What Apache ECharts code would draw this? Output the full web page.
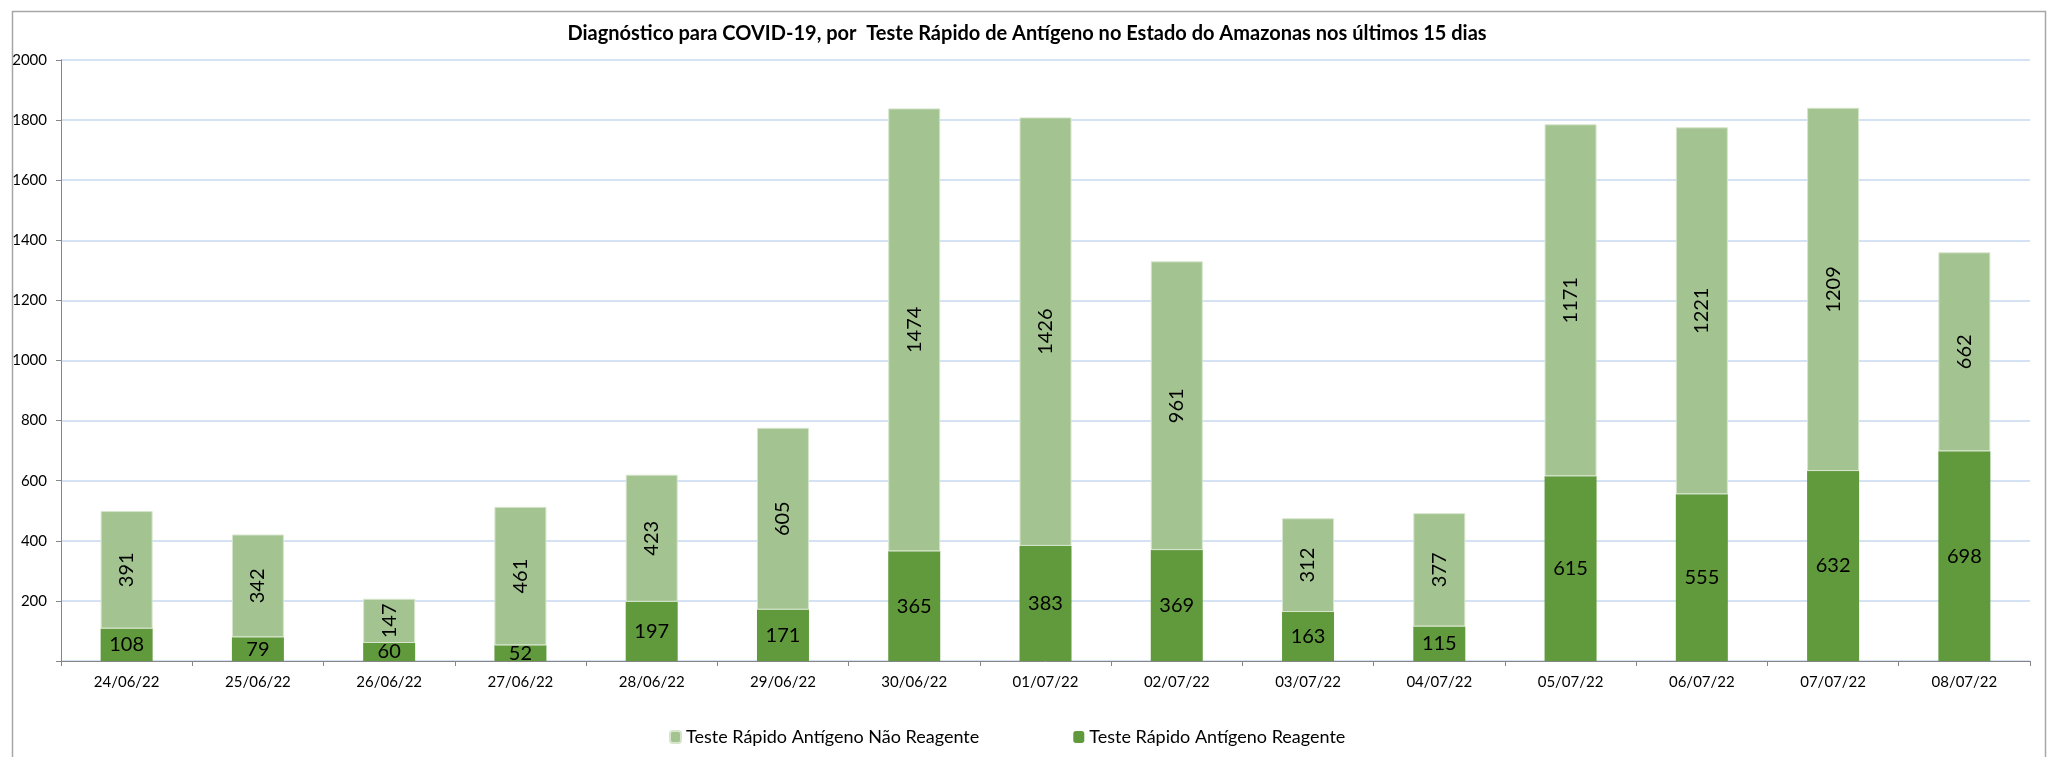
<!DOCTYPE html>
<html>
<head>
<meta charset="utf-8">
<script src="https://cdn.jsdelivr.net/npm/echarts@6/dist/echarts.min.js"></script>
<style>
html,body{margin:0;padding:0;background:#fff;}
#chart{width:2051px;height:757px;}
</style>
</head>
<body>
<div id="chart"></div>
<script>
const titleText = 'Diagnóstico para COVID-19, por  Teste Rápido de Antígeno no Estado do Amazonas nos últimos 15 dias';
const categories = ['24/06/22','25/06/22','26/06/22','27/06/22','28/06/22','29/06/22','30/06/22','01/07/22','02/07/22','03/07/22','04/07/22','05/07/22','06/07/22','07/07/22','08/07/22'];
const reagente = [108,79,60,52,197,171,365,383,369,163,115,615,555,632,698];
const naoReagente = [391,342,147,461,423,605,1474,1426,961,312,377,1171,1221,1209,662];
const seriesNames = ['Teste Rápido Antígeno Não Reagente','Teste Rápido Antígeno Reagente'];
const yTicks = {min:0, max:2000, interval:200};

const FONT = 'Lato, "Open Sans", sans-serif';
const chart = echarts.init(document.getElementById('chart'), null, {renderer:'canvas'});
chart.setOption({
  backgroundColor:'#ffffff',
  animation:false,
  graphic:[{
    type:'rect', left:10, top:9, silent:true,
    shape:{x:0,y:0,width:2033,height:760},
    style:{fill:'none', stroke:'#a6a6a6', lineWidth:1.5}
  }],
  title:{
    text:titleText, left:1027, top:24, padding:0, textAlign:'center',
    textStyle:{fontFamily:FONT, fontSize:20, fontWeight:'bold', color:'#000'}
  },
  legend:{
    data:[seriesNames[0], seriesNames[1]],
    left:664, top:723, itemGap:94, itemWidth:11, itemHeight:12,
    textStyle:{fontFamily:FONT, fontSize:18, color:'#000'}
  },
  grid:{left:61, right:21, top:60, bottom:96, containLabel:false},
  xAxis:{
    type:'category', data:categories,
    axisLine:{lineStyle:{color:'#868686', width:1}},
    axisTick:{show:true, alignWithLabel:false, length:5, lineStyle:{color:'#868686'}},
    axisLabel:{fontFamily:FONT, fontSize:15, color:'#000', margin:14}
  },
  yAxis:{
    type:'value', min:yTicks.min, max:yTicks.max, interval:yTicks.interval,
    axisLine:{show:true, lineStyle:{color:'#868686', width:1}},
    axisTick:{show:true, length:5, lineStyle:{color:'#868686'}},
    axisLabel:{fontFamily:FONT, fontSize:15, color:'#000', margin:14,
      formatter:v=> v===0 ? '' : String(v)},
    splitLine:{show:true, lineStyle:{color:'#c6d9ef', width:1.5}}
  },
  series:[
    {
      name:seriesNames[1], type:'bar', stack:'total', data:reagente, barWidth:52,
      itemStyle:{color:'#619a3c'},
      label:{show:true, position:'inside', fontFamily:FONT, fontSize:20, color:'#000'}
    },
    {
      name:seriesNames[0], type:'bar', stack:'total', data:naoReagente, barWidth:52,
      itemStyle:{color:'#a3c490', borderColor:'#d6e5cc', borderWidth:1},
      label:{show:true, position:'inside', rotate:90, fontFamily:FONT, fontSize:20, color:'#000'}
    }
  ]
});
</script>
</body>
</html>
